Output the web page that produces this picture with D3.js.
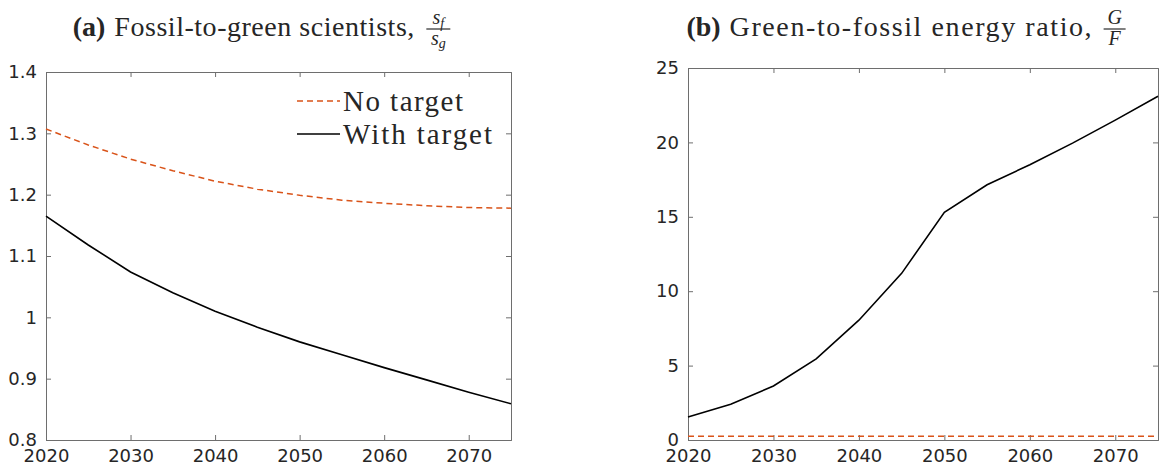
<!DOCTYPE html>
<html>
<head>
<meta charset="utf-8">
<script src="https://cdn.jsdelivr.net/npm/d3@7"></script>
<style>
  body { margin: 0; background: #fff; }
  svg text { fill: #262626; }
</style>
</head>
<body>
<div id="chart"></div>
<script>
/* DATA */
const years = [2020, 2025, 2030, 2035, 2040, 2045, 2050, 2055, 2060, 2065, 2070, 2075];
const sciNoTarget   = [1.307, 1.281, 1.258, 1.239, 1.222, 1.209, 1.199, 1.191, 1.186, 1.182, 1.179, 1.178];
const sciWithTarget = [1.165, 1.118, 1.074, 1.040, 1.010, 0.984, 0.960, 0.939, 0.918, 0.898, 0.878, 0.859];
const ratioNoTarget   = [0.25, 0.25, 0.25, 0.25, 0.25, 0.25, 0.25, 0.25, 0.25, 0.25, 0.25, 0.25];
const ratioWithTarget = [1.55, 2.4, 3.63, 5.45, 8.05, 11.2, 15.3, 17.15, 18.5, 19.95, 21.5, 23.1];
const xTicks = [2020, 2030, 2040, 2050, 2060, 2070];
const leftYTicks = [0.8, 0.9, 1, 1.1, 1.2, 1.3, 1.4];
const rightYTicks = [0, 5, 10, 15, 20, 25];
const legendLabels = ["No target", "With target"];

/* CONSTANTS */
const width = 1164, height = 468;
const orange = "#D95319";
const axisColor = "#6e6e6e";
const tickLen = 5;

const svg = d3.select("#chart").append("svg")
  .attr("width", width)
  .attr("height", height);

function drawPanel(opts) {
  const x = d3.scaleLinear().domain([2020, 2075]).range([opts.left, opts.right]);
  const y = d3.scaleLinear().domain(opts.yDomain).range([opts.bottom, opts.top]);
  const g = svg.append("g");

  // box with inward ticks on all sides (matlab style)
  g.append("g").attr("transform", `translate(0,${opts.bottom})`)
    .call(d3.axisBottom(x).tickValues(xTicks).tickSize(-tickLen).tickFormat(d3.format("d")))
    .call(a => a.selectAll("text").attr("y", 22).attr("dy", 0));
  g.append("g").attr("transform", `translate(0,${opts.top})`)
    .call(d3.axisTop(x).tickValues(xTicks).tickSize(-tickLen).tickFormat(""));
  g.append("g").attr("transform", `translate(${opts.left},0)`)
    .call(d3.axisLeft(y).tickValues(opts.yTicks).tickSize(-tickLen).tickPadding(9).tickFormat(d => d3.format("~g")(d)));
  g.append("g").attr("transform", `translate(${opts.right},0)`)
    .call(d3.axisRight(y).tickValues(opts.yTicks).tickSize(-tickLen).tickFormat(""));

  g.selectAll(".domain, .tick line").attr("stroke", axisColor);
  g.selectAll(".tick text")
    .attr("font-family", "DejaVu Sans")
    .attr("font-size", 18)
    .attr("fill", "#262626");

  const line = d3.line().x((d, i) => x(years[i])).y(d => y(d));

  g.append("path").datum(opts.noTarget)
    .attr("d", line)
    .attr("fill", "none")
    .attr("stroke", orange)
    .attr("stroke-width", 1.5)
    .attr("stroke-dasharray", "6,4");
  g.append("path").datum(opts.withTarget)
    .attr("d", line)
    .attr("fill", "none")
    .attr("stroke", "#000")
    .attr("stroke-width", 1.6);

  // title: bold label + text + fraction
  const t = svg.append("g");
  const bold = t.append("text").attr("font-family", "Liberation Serif").attr("font-weight", "bold")
    .attr("font-size", 28).attr("y", 36).text(opts.label);
  const main = t.append("text").attr("font-family", "Liberation Serif")
    .attr("font-size", 28).attr("y", 36).text(opts.title)
    .attr("textLength", opts.titleLen).attr("lengthAdjust", "spacing");
  const bw = bold.node().getComputedTextLength();
  const gap = 9;
  const mw = opts.titleLen;
  const fracW = opts.fracW;
  const total = bw + gap + mw + 12 + fracW;
  const x0 = (opts.left + opts.right) / 2 - 17 - total / 2;
  bold.attr("x", x0);
  main.attr("x", x0 + bw + gap);
  const fx = x0 + bw + gap + mw + 12 + fracW / 2;
  t.append("line").attr("x1", fx - fracW / 2).attr("x2", fx + fracW / 2)
    .attr("y1", 29).attr("y2", 29).attr("stroke", "#000").attr("stroke-width", 1);
  const num = t.append("text").attr("x", fx).attr("y", 24).attr("text-anchor", "middle")
    .attr("font-family", "Liberation Serif").attr("font-style", "italic").attr("font-size", 20);
  const den = t.append("text").attr("x", fx).attr("y", 45).attr("text-anchor", "middle")
    .attr("font-family", "Liberation Serif").attr("font-style", "italic").attr("font-size", 20);
  opts.num(num);
  opts.den(den);
  t.selectAll("text").attr("fill", "#000");

  return { x, y, g };
}

drawPanel({
  left: 46, right: 511, top: 72, bottom: 440,
  yDomain: [0.8, 1.4], yTicks: leftYTicks,
  noTarget: sciNoTarget, withTarget: sciWithTarget,
  label: "(a)", title: "Fossil-to-green scientists,", titleLen: 300, fracW: 24,
  num: s => { s.append("tspan").text("s"); s.append("tspan").attr("font-size", 14).attr("dy", 4).text("f"); },
  den: s => { s.append("tspan").text("s"); s.append("tspan").attr("font-size", 14).attr("dy", 3).text("g"); }
});

drawPanel({
  left: 688, right: 1158, top: 68, bottom: 440,
  yDomain: [0, 25], yTicks: rightYTicks,
  noTarget: ratioNoTarget, withTarget: ratioWithTarget,
  label: "(b)", title: "Green-to-fossil energy ratio,", titleLen: 362, fracW: 22,
  num: s => s.text("G"),
  den: s => s.text("F")
});

/* LEGEND */
const leg = svg.append("g");
legendLabels.forEach((lab, i) => {
  const ly = 101 + i * 33;
  leg.append("line")
    .attr("x1", 297).attr("x2", 340).attr("y1", ly).attr("y2", ly)
    .attr("stroke", i === 0 ? orange : "#000")
    .attr("stroke-width", i === 0 ? 1.5 : 1.6)
    .attr("stroke-dasharray", i === 0 ? "6,4" : null);
  leg.append("text")
    .attr("x", 343).attr("y", ly + 10)
    .attr("font-family", "Liberation Serif")
    .attr("font-size", 29)
    .attr("fill", "#000")
    .attr("textLength", i === 0 ? 120 : 149)
    .attr("lengthAdjust", "spacing")
    .text(lab);
});
</script>
</body>
</html>
